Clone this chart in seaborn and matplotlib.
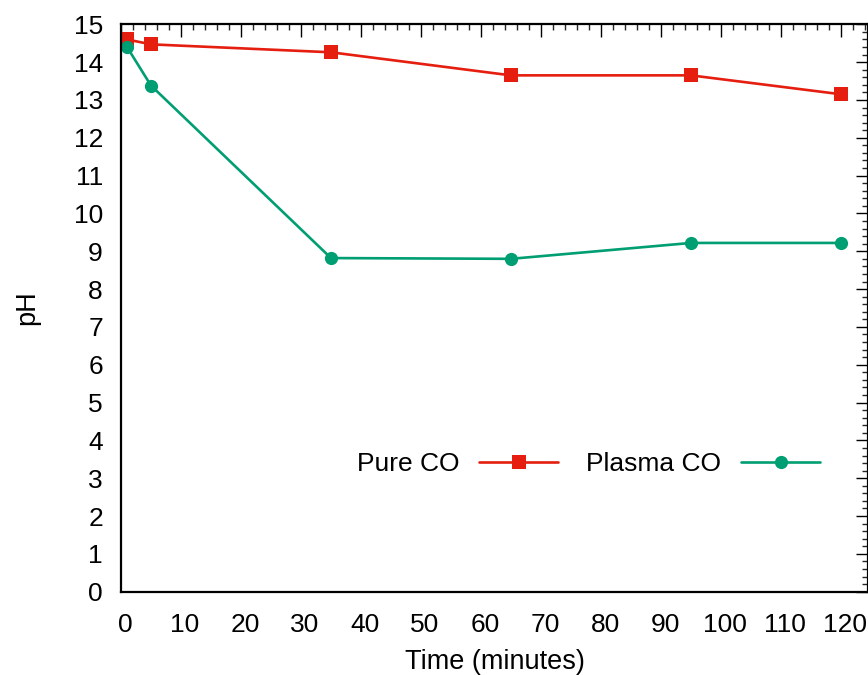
import matplotlib
matplotlib.use("Agg")
import matplotlib.pyplot as plt
import matplotlib.transforms as mtransforms
from matplotlib.ticker import MultipleLocator
import pandas as pd
import seaborn as sns

# Sampling times (minutes) and measured pH for both feeds
time_min = [1, 5, 35, 65, 95, 120]
ph_pure_co = [14.60, 14.47, 14.26, 13.65, 13.65, 13.15]
ph_plasma_co = [14.40, 13.38, 8.82, 8.80, 9.22, 9.22]
series_names = ["Pure CO", "Plasma CO"]
x_ticks = list(range(0, 121, 10))
y_ticks = list(range(0, 16, 1))

df = pd.concat([
    pd.DataFrame({"time": time_min, "pH": ph_pure_co, "series": series_names[0]}),
    pd.DataFrame({"time": time_min, "pH": ph_plasma_co, "series": series_names[1]}),
])

sns.set_style("white")
plt.rcParams["font.family"] = ["Liberation Sans", "DejaVu Sans"]
plt.rcParams["text.color"] = "black"
plt.rcParams["axes.labelcolor"] = "black"

FS = 19
W, H = 868, 675
fig = plt.figure(figsize=(W / 100, H / 100), dpi=100)
left, right, top, bottom = 121, 868, 24.3, 591.7
ax = fig.add_axes([left / W, (H - bottom) / H, (right - left) / W, (bottom - top) / H])

palette = {"Pure CO": "#e51e10", "Plasma CO": "#009e73"}
markers = {"Pure CO": "s", "Plasma CO": "o"}
sizes = {"Pure CO": 10, "Plasma CO": 9.5}

for name in series_names:
    sub = df[df["series"] == name]
    sns.lineplot(data=sub, x="time", y="pH", ax=ax, color=palette[name],
                 marker=markers[name], markersize=sizes[name],
                 markeredgewidth=0, linewidth=1.9, label=name)

ax.set_xlim(0, 124.5)
ax.set_ylim(0, 15)
ax.set_xticks(x_ticks)
ax.set_yticks(y_ticks)
ax.xaxis.set_minor_locator(MultipleLocator(2))
ax.yaxis.set_minor_locator(MultipleLocator(0.2))

for s in ax.spines.values():
    s.set_linewidth(1.6)
    s.set_color("black")

ax.tick_params(which="major", direction="in", length=9, width=1.0,
               top=True, right=True, labelsize=FS, colors="black")
ax.tick_params(which="minor", direction="in", length=4.5, width=1.0,
               top=True, right=True)
ax.tick_params(axis="x", which="major", pad=15)
ax.tick_params(axis="y", which="major", pad=13)

# nudge x tick labels slightly to the right
shift = mtransforms.ScaledTranslation(4 / 100, 0, fig.dpi_scale_trans)
for lab in ax.get_xticklabels():
    lab.set_transform(lab.get_transform() + shift)

ax.set_xlabel("Time (minutes)", fontsize=19.5, labelpad=9)
ax.set_ylabel("pH", fontsize=19.5, labelpad=24)

ax.legend(loc="center right", bbox_to_anchor=(0.95, 3.38 / 15), ncol=2,
          frameon=False, markerfirst=False, fontsize=FS,
          handlelength=3.0, handletextpad=0.75, columnspacing=1.05,
          borderaxespad=0)

fig.savefig("out.png", dpi=100)
